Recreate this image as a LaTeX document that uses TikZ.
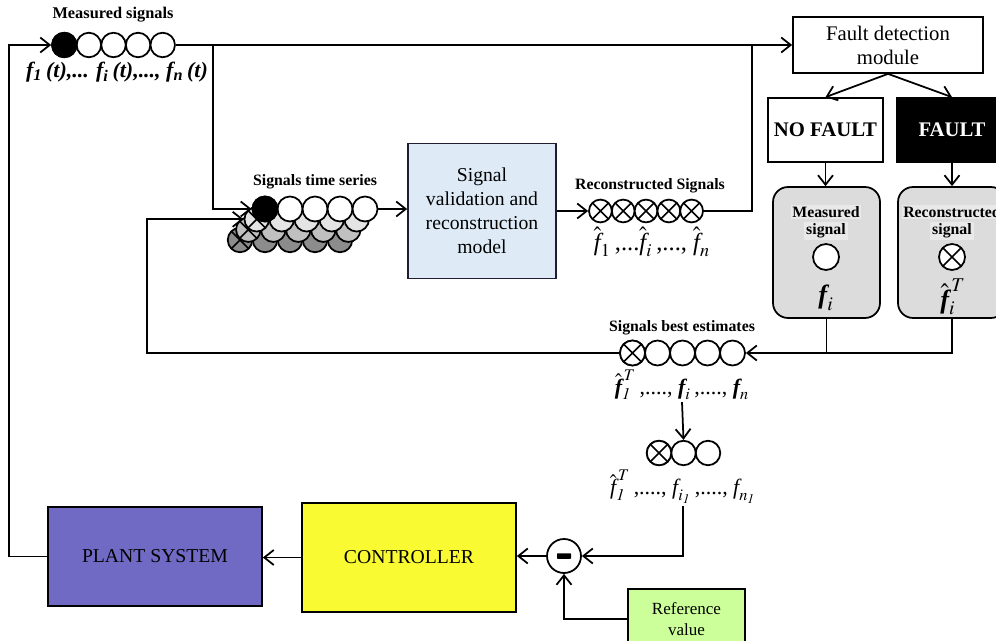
\documentclass[tikz,border=0pt]{standalone}
\usepackage{mathptmx}
\usepackage[no-math]{fontspec}
\setmainfont{Liberation Serif}
\usetikzlibrary{arrows.meta}

\definecolor{plantc}{RGB}{112,106,196}
\definecolor{ctrlc}{RGB}{250,250,50}
\definecolor{refc}{RGB}{204,255,153}
\definecolor{valc}{RGB}{222,235,247}
\definecolor{valborder}{RGB}{30,30,50}
\definecolor{panelg}{RGB}{220,220,220}
\definecolor{panell}{RGB}{233,233,233}
\definecolor{rowa}{RGB}{228,228,228}
\definecolor{rowb}{RGB}{192,192,192}
\definecolor{rowc}{RGB}{140,140,140}

\newcommand{\fsz}[2]{\fontsize{#1}{#2}\selectfont}
\newcommand{\fb}{\mbox{\bfseries\itshape f}}
\newcommand{\fr}{\mbox{\itshape f}}
\newcommand{\fh}{\hat{\mbox{\itshape f}}}
\newcommand{\fhb}{\hat{\mbox{\bfseries\itshape f}}}

\tikzset{
  box/.style={draw, line width=1pt, inner sep=0pt, align=center, font=\fsz{11.2}{13.6}},
  lab/.style={font=\bfseries\fsz{9}{11}, inner sep=1pt},
  formula/.style={inner sep=1pt, font=\fsz{12.5}{14}},
  sig/.style={circle, draw, line width=1pt, fill=white, minimum size=0.49cm, inner sep=0pt},
  osig/.style={sig, path picture={\draw[line width=0.9pt]
      (path picture bounding box.north west) -- (path picture bounding box.south east)
      (path picture bounding box.north east) -- (path picture bounding box.south west);}},
  panel/.style={draw, line width=1pt, fill=panelg, rounded corners=0.3cm, minimum width=2.14cm, minimum height=2.62cm},
  wire/.style={line width=1pt},
}

\begin{document}
\begin{tikzpicture}[x=0.02cm, y=-0.02cm, >={Straight Barb[length=1.9mm,width=3mm]}]
\useasboundingbox (0,0) rectangle (996,641);
\clip (0,0) rectangle (996,641);

% ---------- measured signals ----------
\node[lab, font=\bfseries\fsz{9.3}{11}] (mslab) at (113,15) {Measured signals};
\foreach \i/\x in {1/64.3,2/88.9,3/113.5,4/138.1,5/162.7}
  \node[sig] (ms\i) at (\x,45) {};
\node[sig, fill=black] at (ms1) {};
\node[formula, font=\fsz{12.5}{14}\bfseries\itshape] (mstext) at (117,72)
  {f\textsubscript{1}\,(t),... f\textsubscript{i}\,(t),..., f\textsubscript{n}\,(t)};

% ---------- signals time series (stacked rows) ----------
\foreach \r/\dx/\dy/\col in {4/-25/31/rowc, 3/-16.7/20.7/rowb, 2/-8.3/10.3/rowa}{
  \foreach \i in {1,...,5}{
    \pgfmathsetmacro{\cx}{265+25*(\i-1)+\dx}
    \pgfmathsetmacro{\cy}{209+\dy}
    \ifnum\i=1
      \node[osig, fill=\col] (r\r c\i) at (\cx,\cy) {};
    \else
      \node[sig, fill=\col] (r\r c\i) at (\cx,\cy) {};
    \fi
  }
}
\foreach \i/\x in {1/265,2/290,3/315,4/340,5/365}
  \node[sig, minimum size=0.5cm] (ts\i) at (\x,209) {};
\node[sig, minimum size=0.5cm, fill=black] at (ts1) {};
\node[lab] (tslab) at (315,182) {Signals time series};

% ---------- validation model ----------
\node[box, fill=valc, draw=valborder, minimum width=2.96cm, minimum height=2.7cm] (val) at (482,211)
  {Signal\\validation and\\reconstruction\\model};

% ---------- reconstructed signals ----------
\node[lab] (rclab) at (650,186) {Reconstructed Signals};
\foreach \i/\x in {1/600.4,2/623.2,3/646,4/668.8,5/691.6}
  \node[osig, minimum size=0.456cm] (rc\i) at (\x,211) {};
\node[formula, font=\fsz{14}{16}] (rctext) at (652,242)
  {$\fh_{1}$\,,...$\fh_{i}$\,,..., $\fh_{n}$};

% ---------- fault detection ----------
\node[box, font=\fsz{11.8}{13.6}, minimum width=3.8cm, minimum height=1.12cm] (fd) at (888,45) {Fault detection\\module};
\node[box, font=\bfseries\fsz{11.8}{14}, minimum width=2.3cm, minimum height=1.28cm] (nf) at (825.5,130) {NO FAULT};
\node[box, fill=black, text=white, font=\bfseries\fsz{11.8}{14}, minimum width=2.2cm, minimum height=1.28cm] (fa) at (952,130) {FAULT};

\node[panel] (meas) at (826.5,252.5) {};
\node[panel, minimum width=2.16cm] (rec) at (952,252.5) {};
\node[lab, fill=panell] (mlab1) at (826,212) {Measured};
\node[lab, fill=panell] (mlab2) at (826,231) {signal};
\node[lab, fill=panell] (rlab1) at (952,212) {Reconstructed};
\node[lab, fill=panell] (rlab2) at (952,231) {signal};
\node[sig, minimum size=0.52cm] (mcir) at (826,257) {};
\node[osig, minimum size=0.52cm] (rcir) at (952,257) {};
\node[formula, font=\fsz{15}{17}] (mf) at (826,298) {$\fb_{i}$};
\node[formula, font=\fsz{15}{17}] (rf) at (953,297) {$\fhb^{\,T}_{i}$};

% ---------- best estimates ----------
\node[lab] (belab) at (682,328) {Signals best estimates};
\foreach \i/\x in {1/632.5,2/657.5,3/682.5,4/707.5,5/732.5}
  \node[sig, minimum size=0.5cm] (be\i) at (\x,353) {};
\node[osig, minimum size=0.5cm] at (be1) {};
\node[formula] (betext) at (682,385)
  {$\fhb^{\,T}_{\mathit{1}}$\,,...., $\fb_{i}$\,,...., $\fb_{n}$};

\foreach \i/\x in {1/659,2/683.5,3/708}
  \node[sig, minimum size=0.49cm] (sm\i) at (\x,453) {};
\node[osig, minimum size=0.49cm] at (sm1) {};
\node[formula] (smtext) at (683,487)
  {$\fh^{\,T}_{\mathit{1}}$\,,...., $\fr_{i_{\mathit{1}}}$\,,...., $\fr_{n_{\mathit{1}}}$};

% ---------- control loop ----------
\node[box, fill=plantc, minimum width=4.28cm, minimum height=1.98cm] (plant) at (155,556.5) {PLANT SYSTEM};
\node[box, fill=ctrlc, minimum width=4.28cm, minimum height=2.18cm] (ctrl) at (409,557.5) {CONTROLLER};
\node[circle, draw, line width=1pt, minimum size=0.68cm, inner sep=0pt] (sum) at (564,556) {};
\fill[rounded corners=0.4pt] ([xshift=-0.14cm,yshift=-0.055cm]sum.center) rectangle ([xshift=0.14cm,yshift=0.055cm]sum.center);
\node[box, fill=refc, font=\fsz{9.7}{12}, minimum width=2.34cm, minimum height=1.2cm] (ref) at (686.5,619) {Reference\\value};

% ---------- connectors ----------
\coordinate (br1) at (213,45);
\coordinate (j2) at (752,45);
\coordinate (lb) at (147,353);

\draw[wire,->] (plant.west) -- ++(-38,0) |- (ms1.west);
\draw[wire,->] (ms5.east) -- (fd.west);
\draw[wire,->] (br1) |- (ts1.west);
\draw[wire,->] (ts5.east) -- (ts5.east -| val.west);
\draw[wire,->] (val.east) -- (rc1.west);
\draw[wire] (rc5.east) -| (j2);
\draw[wire,->] (fd.south) -- (nf.north);
\draw[wire,->] (fd.south) -- (fa.north);
\draw[wire,->] (nf.south) -- (meas.north -| nf.south);
\draw[wire,->] (fa.south) -- (rec.north -| fa.south);
\draw[wire,->] (rec.south) |- (be5.east);
\draw[wire] (meas.south) -- (meas.south |- be5.east);
\draw[wire,->] (be1.west) -- (lb) |- (r2c1.west);
\draw[wire,->] (betext.south) -- (sm2.north);
\draw[wire,->] (smtext.south) |- (sum.east);
\draw[wire,->] (sum.west) -- (sum.west -| ctrl.east);
\draw[wire,->] (ctrl.west) -- (ctrl.west -| plant.east);
\draw[wire,->] (ref.west) -| (sum.south);
\end{tikzpicture}
\end{document}
